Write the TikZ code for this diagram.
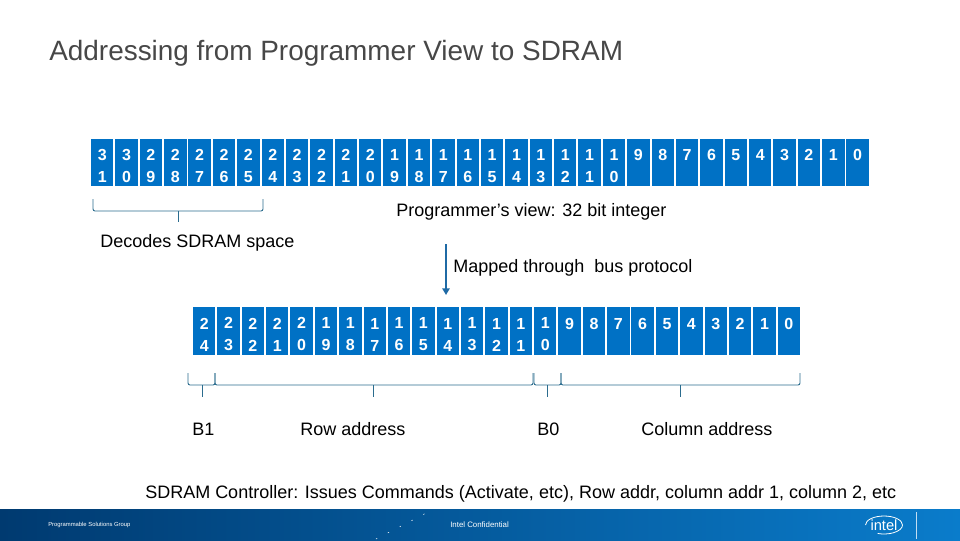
\documentclass[tikz,border=0pt]{standalone}
\usepackage{fontspec}
\setmainfont{Liberation Sans}
\usetikzlibrary{arrows.meta,positioning}
\definecolor{intelblue}{HTML}{0071C5}
\definecolor{bracketblue}{HTML}{2B6C8E}
\definecolor{arrowblue}{HTML}{1F6AA5}
\definecolor{footdark}{HTML}{003A70}
\definecolor{footlight}{HTML}{0A7CCB}
\tikzset{
   bitcell/.style={fill=intelblue,text=white,minimum width=16.8pt,minimum height=35.6pt,inner sep=0pt,
      align=center,font=\fontsize{12}{16.5}\selectfont\bfseries},
   caption/.style={anchor=west,inner sep=0pt,font=\fontsize{13.5}{16}\selectfont},
   footnote/.style={anchor=west,inner sep=0pt,text=white},
   bracket/.style={draw=bracketblue,line width=0.7pt,rounded corners=1.5pt}
}
\newcommand{\bitbracket}[4]{
   \coordinate (#1a) at (#2,373);
   \coordinate (#1b) at (#3,373);
   \coordinate (#1m) at (#4,385);
   \coordinate (#1t) at (#4,397);
   \draw[bracket] (#1a) |- (#1m) -| (#1b);
   \draw[bracket] (#1m) -- (#1t);
}
\begin{document}
\begin{tikzpicture}[x=0.75pt,y=-0.75pt]
   \useasboundingbox (0,0) rectangle (960,540);
   \node[anchor=west,inner sep=0pt,text=black!72,font=\fontsize{20.95}{24}\selectfont] (title) at (49,53)
      {Addressing from Programmer View to SDRAM};
   % programmer's view
   \foreach \hi/\lo [count=\i from 0] in {3/1,3/0,2/9,2/8,2/7,2/6,2/5,2/4,2/3,2/2,2/1,2/0,1/9,1/8,1/7,1/6,1/5,1/4,1/3,1/2,1/1,1/0,9/,8/,7/,6/,5/,4/,3/,2/,1/,0/}
      \node[bitcell] (top\i) at (102.2+\i*24.37,162.5) {\rule{0pt}{13.5pt}\hi\\\rule{0pt}{8pt}\lo};
   \node[caption] (view) at (396,212) {Programmer’s view: 32 bit integer};
   \node[caption] (decodes) at (100,243) {Decodes SDRAM space};
   \coordinate (tl) at (93,199);
   \coordinate (tr) at (263,199);
   \coordinate (tm) at (178,211);
   \coordinate (tt) at (178,222);
   \draw[bracket] (tl) |- (tm) -| (tr);
   \draw[bracket] (tm) -- (tt);
   % sdram side
   \foreach \hi/\lo [count=\i from 0] in {2/4,2/3,2/2,2/1,2/0,1/9,1/8,1/7,1/6,1/5,1/4,1/3,1/2,1/1,1/0,9/,8/,7/,6/,5/,4/,3/,2/,1/,0/}
      \node[bitcell] (low\i) at (204.2+\i*24.36,331) {\rule{0pt}{13.5pt}\hi\\\rule{0pt}{8pt}\lo};
   \coordinate (map) at (446,244);
   \draw[arrowblue,line width=1.2pt,-{Triangle[length=5pt,width=5.5pt]},shorten >=9pt] (map) -- (map |- low10.north);
   \node[caption] (mapped) at (453,268) {Mapped through\ \ bus protocol};
   \bitbracket{bone}{188}{215}{202}
   \bitbracket{row}{215}{533}{373}
   \bitbracket{bzero}{534}{561}{547}
   \bitbracket{col}{561}{800}{680}
   \node[caption] (bonetxt) at (192,429) {B1};
   \node[caption] (rowtxt) at (300,429) {Row address};
   \node[caption] (bzerotxt) at (537,429) {B0};
   \node[caption] (coltxt) at (641,429) {Column address};
   \node[caption] (ctrl) at (145,494) {SDRAM Controller: Issues Commands (Activate, etc), Row addr, column addr 1, column 2, etc};
   % footer
   \shade[left color=footdark,right color=footlight] (0,509) rectangle (960,540);
   \draw[white,line width=0.4pt,dash pattern=on 1pt off 9pt] (376,539) -- (432,510);
   \node[footnote,font=\fontsize{4.4}{5}\selectfont] (group) at (48,525) {Programmable Solutions Group};
   \node[footnote,font=\fontsize{5.9}{7}\selectfont] (conf) at (450,525) {Intel Confidential};
   \node[footnote,anchor=center,font=\fontsize{11}{12}\selectfont] (logo) at (884,525) {intel};
   \draw[white,line width=0.6pt] (865.5,525) arc [start angle=180,end angle=470,x radius=18.5,y radius=9];
   \draw[white!75!footlight,line width=0.5pt] (916,512) -- (916,539);
\end{tikzpicture}
\end{document}
